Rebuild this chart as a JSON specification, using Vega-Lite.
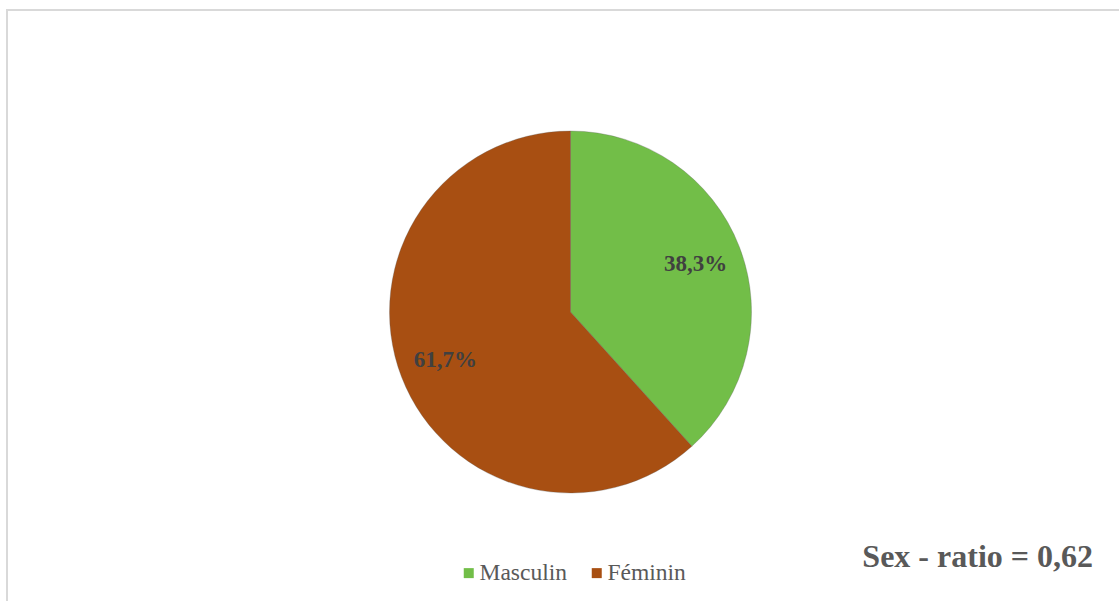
{
  "$schema": "https://vega.github.io/schema/vega-lite/v6.json",
  "width": 1119,
  "height": 601,
  "autosize": {"type": "fit", "contains": "padding"},
  "padding": {"left": 7, "top": 10, "right": -15, "bottom": -13},
  "background": "white",
  "view": {"stroke": "#D9D9D9", "strokeWidth": 2, "fill": "white"},
  "config": {
    "view": {"stroke": "#D9D9D9", "strokeWidth": 2},
    "font": "Liberation Serif",
    "legend": {"labelFont": "Liberation Serif", "labelFontSize": 23.5, "labelColor": "#595959"}
  },
  "title": {
    "text": "Sex - ratio = 0,62",
    "orient": "bottom",
    "anchor": "end",
    "font": "Liberation Serif",
    "fontSize": 32,
    "fontWeight": "bold",
    "color": "#595959",
    "offset": -72,
    "dx": -41
  },
  "data": {
    "values": [
      {"sexe": "Masculin", "pct": 38.3, "label": "38,3%", "ordre": 1},
      {"sexe": "Féminin", "pct": 61.7, "label": "61,7%", "ordre": 2}
    ]
  },
  "encoding": {
    "theta": {"field": "pct", "type": "quantitative", "stack": true},
    "order": {"field": "ordre", "type": "quantitative"}
  },
  "layer": [
    {
      "mark": {"type": "arc", "radius": 181, "stroke": "#5a5a5a", "strokeWidth": 0.6, "strokeOpacity": 0.5},
      "encoding": {
        "color": {
          "field": "sexe",
          "type": "nominal",
          "sort": ["Masculin", "Féminin"],
          "scale": {"domain": ["Masculin", "Féminin"], "range": ["#72BE48", "#A84F12"]},
          "legend": {
            "title": null,
            "orient": "none",
            "direction": "horizontal",
            "legendX": 450,
            "legendY": 551,
            "symbolType": "square",
            "symbolSize": 100,
            "symbolStrokeWidth": 0,
            "labelFont": "Liberation Serif",
            "labelFontSize": 23.5,
            "labelColor": "#595959",
            "labelOffset": -1,
            "columnPadding": 18
          }
        }
      }
    },
    {
      "mark": {"type": "text", "radius": 134, "font": "Liberation Serif", "fontSize": 23, "fontWeight": "bold", "color": "#404040"},
      "encoding": {
        "text": {"field": "label", "type": "nominal"}
      }
    }
  ]
}
